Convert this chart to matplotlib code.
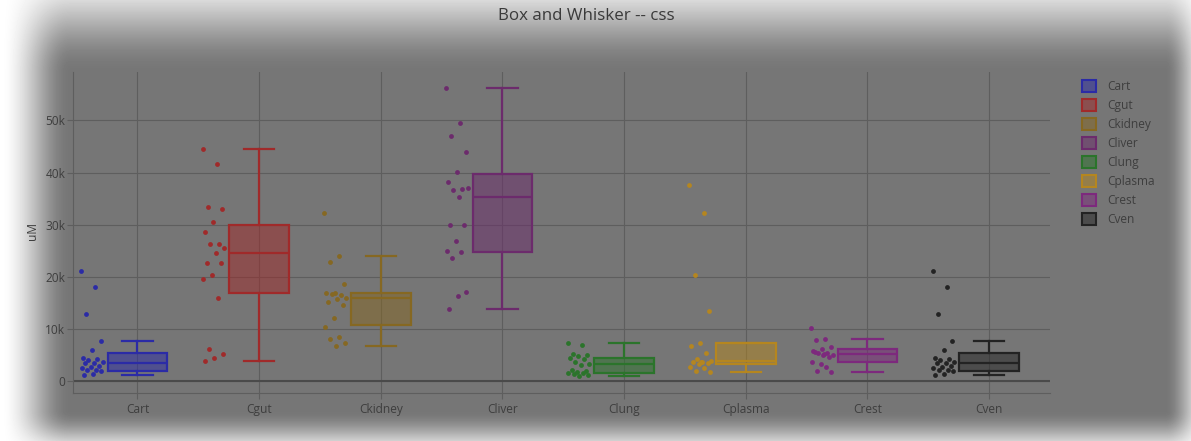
import numpy as np
import matplotlib
matplotlib.use('Agg')
import matplotlib.pyplot as plt
from matplotlib.patches import Patch

plt.rcParams['font.family'] = ['Open Sans', 'DejaVu Sans']

categories = ['Cart', 'Cgut', 'Ckidney', 'Cliver', 'Clung', 'Cplasma', 'Crest', 'Cven']

cart = [21.1, 18.1, 12.8, 7.6, 5.9, 4.5, 4.2, 4.0, 3.7, 3.5, 3.4, 2.9, 2.7, 2.5, 2.2, 2.1, 1.9, 1.4, 1.1]
cgut = [44.5, 41.7, 33.3, 33.1, 30.6, 28.5, 26.3, 26.2, 25.5, 24.6, 22.7, 22.6, 20.4, 19.6, 16.0, 6.1, 5.1, 4.4, 3.8]
ckidney = [32.3, 23.9, 22.9, 18.6, 16.8, 16.8, 16.6, 16.7, 16.0, 15.7, 15.2, 14.5, 12.1, 10.4, 8.4, 8.0, 7.2, 6.8]
cliver = [56.2, 49.5, 47.1, 43.9, 40.2, 38.1, 36.8, 36.7, 37.0, 35.4, 30.0, 30.0, 26.9, 25.0, 24.7, 23.7, 17.1, 16.3, 13.9]
clung = [7.3, 7.0, 5.1, 4.9, 4.8, 4.5, 4.3, 3.6, 3.3, 3.0, 2.2, 1.9, 1.8, 1.6, 1.5, 1.3, 1.2, 1.0]
cplasma = [37.7, 32.3, 20.3, 13.5, 7.2, 6.8, 5.4, 4.2, 3.9, 3.7, 3.6, 3.4, 3.2, 2.7, 2.5, 1.9, 1.7, 3.7]
crest = [10.2, 8.0, 7.8, 6.5, 6.1, 5.8, 5.3, 5.3, 5.0, 5.1, 5.6, 4.7, 3.2, 3.6, 2.7, 2.0, 1.8, 4.9]
cven = [21.1, 18.1, 12.8, 7.6, 5.9, 4.5, 4.2, 4.0, 3.7, 3.5, 3.4, 2.9, 2.7, 2.5, 2.2, 2.1, 1.9, 1.4, 1.1]

# box statistics (thousands of uM)
box_low = [1.1, 3.8, 6.8, 13.9, 1.0, 1.7, 1.8, 1.1]
box_q1 = [2.0, 16.9, 10.8, 24.7, 1.6, 3.3, 3.7, 2.0]
box_med = [3.4, 24.6, 15.9, 35.4, 3.2, 3.8, 5.1, 3.4]
box_q3 = [5.4, 30.0, 16.8, 39.7, 4.5, 7.2, 6.1, 5.4]
box_high = [7.6, 44.6, 23.9, 56.2, 7.2, 7.2, 8.0, 7.6]

colors = ['#2b2ba6', '#a02a2a', '#866822', '#6c2b6c', '#2b742b', '#b5861f', '#7d297d', '#232323']

ytick_values = [0, 10000, 20000, 30000, 40000, 50000]
ytick_labels = ['0', '10k', '20k', '30k', '40k', '50k']

series = [cart, cgut, ckidney, cliver, clung, cplasma, crest, cven]

W, H = 1191, 441
fig = plt.figure(figsize=(W / 100, H / 100), dpi=100)

# dimmed card with soft shadow edges
bg_ax = fig.add_axes([0, 0, 1, 1], zorder=-10)
xs = np.arange(W)
ys = np.arange(H)


def ramp(t):
    t = np.clip(t, 0, 1)
    return t * t * (3 - 2 * t)


fx = ramp(xs / 70.0) * ramp((1210 - xs) / 45.0)
fy = ramp((ys + 38) / 110.0) * ramp((460 - ys) / 50.0)
f = fy[:, None] * fx[None, :]
bgc = 118 / 255.0
img = 1 - f * (1 - bgc)
bg_ax.imshow(img, cmap='gray', vmin=0, vmax=1, aspect='auto', interpolation='bilinear')
bg_ax.axis('off')

ax = fig.add_axes([73 / W, 1 - 393 / H, (1050 - 73) / W, (393 - 72) / H])
ax.set_facecolor('none')

grid_c = '#5e5e5e'
text_c = '#3e3e3e'

for i, (vals, c) in enumerate(zip(series, colors)):
    stat = dict(med=box_med[i] * 1000, q1=box_q1[i] * 1000, q3=box_q3[i] * 1000,
                whislo=box_low[i] * 1000, whishi=box_high[i] * 1000, label=categories[i])
    ax.bxp([stat], positions=[i], widths=0.49, capwidths=0.25, showfliers=False,
           patch_artist=True,
           boxprops=dict(facecolor=matplotlib.colors.to_rgba(c, 0.5), edgecolor=c, linewidth=1.6),
           medianprops=dict(color=c, linewidth=1.6),
           whiskerprops=dict(color=c, linewidth=1.6),
           capprops=dict(color=c, linewidth=1.6), zorder=3)
    n = len(vals)
    offs = ((np.arange(n) * 0.618034) % 1.0 - 0.5) * 0.19
    ax.scatter(i - 0.37 + offs, np.array(vals) * 1000, s=12, color=c, linewidths=0, zorder=4)

ax.set_xlim(-0.53, 7.5)
ax.set_ylim(-2300, 59300)
ax.set_xticks(range(len(categories)))
ax.set_xticklabels(categories)
ax.set_yticks(ytick_values)
ax.set_yticklabels(ytick_labels)
ax.grid(True, color=grid_c, linewidth=0.8, zorder=0)
ax.set_axisbelow(True)
ax.axhline(0, color='#4a4a4a', linewidth=1.5, zorder=1)
for s in ['top', 'right']:
    ax.spines[s].set_visible(False)
for s in ['left', 'bottom']:
    ax.spines[s].set_color(grid_c)
    ax.spines[s].set_linewidth(0.8)
ax.tick_params(axis='y', length=4.5, width=0.8, color=grid_c, pad=1, labelsize=8.6, labelcolor=text_c)
ax.tick_params(axis='x', length=4.5, width=0.8, color=grid_c, pad=2.5, labelsize=8.6, labelcolor=text_c)

fig.text(586 / W, 1 - 16 / H, 'Box and Whisker -- css', ha='center', va='center',
         fontsize=12.2, color='#3a3a3a')
fig.text(32.5 / W, 1 - 231 / H, 'uM', rotation=90, ha='center', va='center',
         fontsize=8.6, color=text_c)

handles = [Patch(facecolor=matplotlib.colors.to_rgba(c, 0.5), edgecolor=c, linewidth=1.5, label=cat)
           for c, cat in zip(colors, categories)]
leg = ax.legend(handles=handles, loc='upper left', bbox_to_anchor=(1082 / W, 1 - 80 / H),
                bbox_transform=fig.transFigure, frameon=False, fontsize=8.6,
                handlelength=1.15, handleheight=1.15, handletextpad=1.0,
                labelspacing=0.5, borderaxespad=0, borderpad=0)
for t in leg.get_texts():
    t.set_color(text_c)

fig.savefig('out.png', dpi=100)
